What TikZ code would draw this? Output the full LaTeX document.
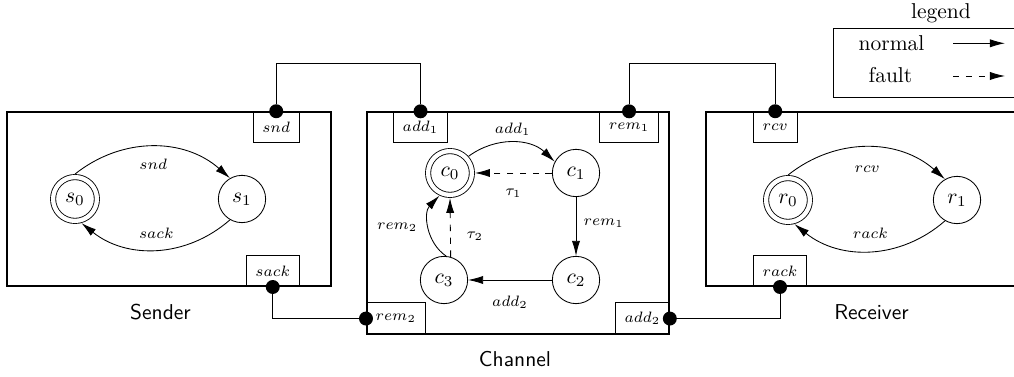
\documentclass[tikz,border=0pt]{standalone}
\usepackage{amsmath,amssymb}
\usetikzlibrary{positioning,arrows.meta}

\begin{document}
\begin{tikzpicture}[x=0.01636cm, y=0.01636cm, >={Latex[length=7pt,width=3.8pt]},
  comp/.style={draw, thick, inner sep=0pt},
  portbox/.style={draw, minimum height=14.4pt, inner xsep=4.3pt, inner ysep=0pt, font=\scriptsize},
  jdot/.style={circle, fill=black, inner sep=0pt, minimum size=6.5pt},
  st/.style={circle, draw, minimum size=22pt, inner sep=0pt},
  ini/.style={st, double, double distance=2pt, minimum size=20.4pt, outer sep=1.4pt},
  lab/.style={font=\scriptsize},
  cname/.style={font=\sffamily}]
\useasboundingbox (0,0) rectangle (1014,377);
\clip (0,0) rectangle (1014,377);
% components
\node[comp, minimum width=150.8pt, minimum height=81pt, anchor=south west] (sender) at (6,90) {};
\node[comp, minimum width=140.6pt, minimum height=103.3pt, anchor=south west] (channel) at (366,42) {};
\node[comp, minimum width=155pt, minimum height=81pt, anchor=south west] (receiver) at (705,90) {};
\node[cname] (lsender) at (160.5,64.5) {Sender};
\node[cname] (lchannel) at (515,17.5) {Channel};
\node[cname] (lreceiver) at (871.5,64.5) {Receiver};
% ports
\node[portbox, anchor=north east] (psnd) at ([xshift=-14.9pt]sender.north east) {$snd$};
\node[portbox, anchor=south east] (psack) at ([xshift=-14.9pt]sender.south east) {$sack$};
\node[portbox, anchor=north west] (padd1) at ([xshift=12.6pt]channel.north west) {$add_1$};
\node[portbox, anchor=north east] (prem1) at ([xshift=-5.1pt]channel.north east) {$rem_1$};
\node[portbox, anchor=south west, minimum width=27pt, minimum height=14.9pt] (prem2) at (channel.south west) {$rem_2$};
\node[portbox, anchor=south east, minimum width=24.2pt, minimum height=14.9pt] (padd2) at (channel.south east) {$add_2$};
\node[portbox, anchor=north west] (prcv) at ([xshift=22.3pt]receiver.north west) {$rcv$};
\node[portbox, anchor=south west] (prack) at ([xshift=22.3pt]receiver.south west) {$rack$};
\node[jdot] (dsnd) at (psnd.north) {};
\node[jdot] (dsack) at (psack.south) {};
\node[jdot] (dadd1) at (padd1.north) {};
\node[jdot] (drem1) at (prem1.north) {};
\node[jdot] (drem2) at (prem2.west) {};
\node[jdot] (dadd2) at (padd2.east) {};
\node[jdot] (drcv) at (prcv.north) {};
\node[jdot] (drack) at (prack.south) {};
% wiring
\coordinate (wtop) at (0,314);
\draw (dsnd) |- (dadd1 |- wtop) -- (dadd1);
\draw (drem1) |- (drcv |- wtop) -- (drcv);
\draw (dsack) |- (drem2);
\draw (dadd2) -| (drack);
% sender
\node[ini] (s0) at (75,178) {$s_0$};
\node[st] (s1) at (242,178) {$s_1$};
\draw[->] (s0.north) to[bend left=40] node[lab, below=2pt] {$snd$} (s1.120);
\draw[->] (s1.240) to[bend left=40] node[lab, above=1.5pt] {$sack$} (s0.285);
% channel
\node[ini] (c0) at (450,204) {$c_0$};
\node[st] (c1) at (576,204) {$c_1$};
\node[st] (c2) at (576,97) {$c_2$};
\node[st] (c3) at (444,97) {$c_3$};
\draw[->] (c0.42) to[bend left=40] node[lab, above] {$add_1$} (c1.152);
\draw[->, dashed] (c1) -- node[lab, below=4pt] {$\tau_1$} (c0);
\draw[->] (c1) -- node[lab, right, pos=.45] {$rem_1$} (c2);
\draw[->] (c2) -- node[lab, below=4pt] {$add_2$} (c3);
\draw[->] (c3.85) to[bend left=50] node[lab, left=2pt] {$rem_2$} (c0.245);
\draw[->, dashed] (c3.74) -- node[lab, right=4pt, pos=.35] {$\tau_2$} (c0.south);
% receiver
\node[ini] (r0) at (788,177) {$r_0$};
\node[st] (r1) at (957,177) {$r_1$};
\draw[->] (r0.north) to[bend left=40] node[lab, below=5pt] {$rcv$} (r1.120);
\draw[->] (r1.240) to[bend left=40] node[lab, above=2pt] {$rack$} (r0.285);
% legend
\node (lgtitle) at (941,364) {legend};
\draw (833,280) rectangle (1030,349);
\node (lnormal) at (891.5,333.5) {normal};
\node (lfault) at (890.5,302) {fault};
\coordinate (na) at (953,333.7);
\coordinate (nb) at (1005,333.7);
\coordinate (fa) at (953,301);
\coordinate (fb) at (1005,301);
\draw[->] (na) -- (nb);
\draw[->, dashed] (fa) -- (fb);
\end{tikzpicture}
\end{document}
